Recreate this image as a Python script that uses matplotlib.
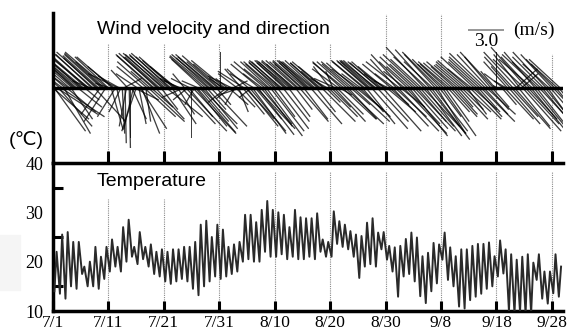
import matplotlib
matplotlib.use('Agg')
import matplotlib.pyplot as plt
import numpy as np
from matplotlib.patches import Rectangle

# ---------------- data ----------------
tick_days = [0, 10, 20, 30, 40, 50, 60, 70, 80, 90]
tick_labels = ['7/1', '7/11', '7/21', '7/31', '8/10', '8/20', '8/30', '9/8', '9/18', '9/28']

# daily temperature extremes (deg C), day 0 = 7/1
temp_max = [22, 25.5, 26, 24, 24, 19, 20, 23, 21, 23,
            24.5, 23, 27, 28.5, 23, 26, 23, 23.5, 22, 22.5,
            22, 22.5, 22.5, 23, 23, 24, 27.5, 28.3, 25, 27.5,
            26.5, 23, 23.5, 24, 29.5, 29.5, 28, 30.5, 32.3, 30.5,
            30, 29.5, 27, 30.5, 29, 28.8, 28.8, 29.8, 24.5, 24,
            30.2, 28.2, 27.5, 26.2, 25.5, 25.2, 27.9, 28.8, 25.9, 26,
            23.2, 22.9, 23.2, 24.6, 25.9, 24.9, 21.1, 21.8, 23.8, 23.5,
            25.9, 22.9, 21.1, 22.5, 22.5, 23.2, 23.6, 23.6, 23.9, 21.1,
            24.3, 22.5, 21.5, 20.4, 21, 21.5, 19.8, 21.5, 18, 18,
            21.5, 19.0]
temp_min = [14, 13.5, 12.5, 15, 14.5, 17.5, 15, 15, 14.5, 16.5,
            18, 19, 18, 20, 21, 19.5, 20.5, 19, 17.5, 17,
            16, 15.5, 16, 16.5, 16, 14.5, 13.2, 15, 16, 17,
            16.5, 17, 17.5, 18, 20, 20.5, 20, 20, 22, 21,
            21, 21.5, 20.5, 21, 20.5, 20.5, 21, 20.5, 22, 21,
            21, 23.6, 23, 22.5, 21, 16.7, 19, 19.5, 19, 22.5,
            20.4, 18, 12.9, 17, 17.5, 16, 13, 11.6, 14, 15.6,
            20.4, 16.3, 15, 10.9, 10.5, 12.2, 12.9, 13.5, 14.5, 15,
            17, 17.6, 10, 9.5, 9.8, 9.5, 9.6, 16.3, 12.5, 11.5,
            13.6, 12.9]

# wind components (m/s), 4 observations per day
wind_u = [3.0, 2.6, -2.8, 3.4,  2.8, -3.0, 3.6, -2.2,  2.2, -3.2, 2.4, -3.4,
          -3.0, 1.8, -3.3, -2.6,  -3.2, -2.8, 2.0, -3.5,  -3.0, -3.4, -2.4, 1.2,
          -3.2, -2.9, -3.5, -1.5,  -3.0, -3.3, 2.6, -2.7,  -3.4, -3.0, -1.6, -3.1,
          -3.2, -2.4, -1.8, -3.5,  -2.8, -1.2, 1.0, -3.0,  -2.2, -1.5, 0.6, -2.5,
          -1.8, -1.0, 0.2, 1.5,  0.1, -0.6, -1.4, 0.1,  0.0, 1.2, -0.8, 2.0,
          -1.2, -1.8, 0.6, 2.2,  1.5, -2.2, 2.6, 0.4,  -2.5, 3.0, -1.6, 1.8,
          -3.0, -3.2, 2.4, -2.8,  -3.3, -2.9, 1.4, -3.1,  -3.4, -3.0, 3.0, -3.2,
          -2.8, -3.3, 2.0, -2.6,  -3.0, -2.2, 1.4, -1.6,  -1.4, 2.8, -1.8, -1.0,
          3.4, -1.2, 2.0, -1.6,  0.0, 3.6, -0.8, 2.6,  3.2, -1.4, 2.4, 3.0,
          -2.6, 2.8, -3.0, 1.6,  -3.2, -2.8, 3.0, -3.4,  -3.0, -3.3, 1.2, -2.6,
          -3.1, 0.0, -2.4, -1.2,  -2.8, -1.5, -1.0, 1.6,  -1.2, -2.0, 1.2, -0.8,
          1.6, -1.6, 0.8, -1.8,  -1.4, 1.8, -2.2, 2.4,  2.6, -1.8, 3.0, -1.0,
          2.8, -2.0, 2.2, 3.2,  3.0, -2.4, 2.6, -1.6,  2.4, -2.6, 3.0, -2.0,
          -2.4, 2.8, -2.2, 1.8,  -2.6, -2.3, 2.6, -2.5,  -2.4, -2.7, 2.2, -2.3,
          -2.6, -2.4, 1.8, -2.8,  -2.5, -2.2, -2.7, 1.4,  -2.6, -2.4, 2.4, -2.2,
          -2.5, 2.0, -2.7, -2.3,  -2.6, -2.4, 2.6, -2.8,  -2.6, -2.5, 1.6, -2.3,
          -2.4, -1.6, 2.8, -2.6,  -2.2, 1.2, -1.4, 2.4,  -1.4, 1.6, -0.6, 2.6,
          -1.8, 2.2, -2.2, 1.0,  -2.4, 2.8, -2.6, 3.2,  -2.5, 2.4, -2.3, 1.6,
          -2.6, 3.0, -2.4, 2.2,  -2.2, 2.6, -1.6, 1.8,  -2.6, -2.8, 2.4, -2.5,
          -2.7, -2.5, 3.0, -2.8,  -2.6, -2.9, 2.6, -2.4,  -2.7, -2.5, 3.2, -2.2,
          -1.8, 2.4, -1.2, 1.6,  -2.4, 3.0, -1.6, 2.6,  -2.2, 3.4, -2.8, 2.0,
          -2.6, 3.6, -1.8, 2.8,  -2.4, 3.2, -2.0, 3.0,  -2.8, 3.4, -2.2, 2.4,
          -3.0, 2.8, -2.6, 3.6,  -3.2, 3.0, -2.8, 2.6,  -2.9, 3.2, -2.4, 2.8,
          -2.6, 2.4, -3.0, 1.8,  -2.4, 2.8, -2.2, 2.0,  -2.2, 1.8, -2.6, 2.2,
          -2.4, 2.0, -2.0, 1.4,  -2.6, 2.4, -2.2, 1.8,  -2.3, 2.2, -2.5, 1.6,
          -2.6, 2.6, -2.0, 2.0,  -2.8, 2.2, -2.4, 1.8,  -2.6, 2.8, -2.8, 2.0,
          -3.0, 2.4, -2.6, 1.6,  -2.2, 1.4, -2.8, -1.2,  0.0, -0.4, -0.3, 0.2,
          1.2, -1.6, 2.4, -1.0,  -2.0, 2.6, -1.6, 2.2,  -2.4, 3.0, 1.8, -2.8,
          2.6, -2.2, 1.4, 3.2,  -2.6, 2.8, -3.0, 2.4,  -2.4, 3.0, -2.8, 2.6,
          -2.6, 2.2, -3.0, 3.2,  -2.4, 2.8, -2.6, 2.0,  -2.8, 2.6, -2.2, 2.4,
          -2.6, 3.0, -2.4, 1.8,  -2.2, 2.2, -2.6, 1.6]
wind_v = [-2.6, -3.6, 2.2, -2.2,  -3.2, 2.6, -2.4, 1.6,  -3.8, 2.8, -2.0, 2.5,
          2.6, -2.6, 2.9, 2.4,  2.8, 2.5, -1.6, 2.9,  2.7, 2.8, 2.0, -1.0,
          2.9, 2.6, 2.8, 0.6,  2.8, 2.9, -2.8, 2.5,  3.0, 2.7, -2.2, 2.8,
          2.9, 2.2, -2.8, 3.0,  2.6, 0.4, -3.5, 2.6,  1.8, -2.4, -2.8, 1.2,
          1.0, -2.0, -3.8, 0.8,  -4.6, -3.2, 1.5, -5.0,  -4.2, -2.6, -3.4, -1.0,
          -3.6, 1.2, -3.0, -3.4,  -3.8, 1.8, -2.4, -2.8,  2.2, -2.8, 1.4, -1.6,
          2.7, 2.8, -2.6, 2.6,  2.9, 2.6, -1.8, 2.8,  2.9, 2.8, -2.4, 2.7,
          2.6, 2.9, -3.0, 2.3,  2.6, 1.8, -2.2, 0.8,  0.6, -3.0, -0.8, 1.2,
          -3.6, -1.0, -2.4, 0.8,  -4.2, -3.8, -1.4, -3.2,  -3.7, 0.6, -2.8, -3.0,
          2.4, -3.4, 2.6, -1.8,  2.7, 2.5, -3.2, 2.8,  2.6, 2.8, -1.4, 2.2,
          2.7, 3.0, 2.0, 0.8,  2.3, -1.2, 0.8, -1.4,  -0.9, 1.0, 0.6, -1.4,
          -1.6, 1.2, -2.0, -0.6,  1.6, -2.2, 1.4, -2.6,  -3.2, 1.6, -3.6, -0.8,
          -3.8, 1.2, -2.6, -3.4,  -3.9, 2.0, -3.0, 1.2,  -3.2, 2.2, -4.0, 1.6,
          2.2, -3.6, 2.0, -2.4,  2.2, 2.2, -3.4, 2.1,  2.2, 2.3, -2.8, 2.1,
          2.3, 2.2, -2.4, 2.3,  2.2, 2.0, 2.3, -1.8,  2.3, 2.2, -2.8, 2.0,
          2.2, -2.6, 2.3, 2.1,  2.3, 2.2, -3.0, 2.3,  2.2, 2.3, -2.0, 2.1,
          2.1, 1.4, -2.8, 2.2,  1.8, -1.2, 0.8, -2.4,  1.8, -1.6, 1.4, -2.8,
          0.8, -2.2, 1.6, -0.6,  2.2, -2.6, 2.1, -3.0,  2.2, -2.6, 2.0, -1.4,
          2.2, -2.8, 2.1, -1.8,  1.6, -2.4, 1.2, -2.0,  2.2, 2.3, -3.0, 2.2,
          2.3, 2.2, -3.4, 2.3,  2.3, 2.3, -2.8, 2.1,  2.2, 2.2, -3.6, 1.8,
          1.2, -2.0, 0.6, -1.4,  2.0, -3.2, 1.2, -2.4,  2.4, -3.6, 2.2, -1.6,
          2.8, -3.8, 1.4, -3.0,  2.2, -4.0, 1.8, -3.4,  2.6, -3.6, 2.0, -2.8,
          2.8, -3.2, 2.4, -3.8,  3.4, -4.0, 2.6, -3.2,  3.2, -4.3, 2.2, -3.6,
          2.8, -3.8, 3.0, -2.4,  2.4, -4.0, 2.0, -2.8,  2.0, -2.0, 2.2, -2.4,
          2.1, -2.2, 1.8, -1.6,  2.2, -2.6, 1.9, -1.8,  2.0, -2.0, 2.2, -2.2,
          2.3, -2.6, 1.6, -1.8,  2.6, -2.4, 2.2, -2.0,  2.4, -2.8, 2.6, -2.2,
          2.9, -2.2, 2.8, -1.8,  2.6, -1.6, 3.0, 1.4,  3.0, 0.2, -0.2, 0.1,
          -1.4, 1.2, -2.6, 0.6,  2.2, -3.0, 1.8, -2.4,  2.6, -3.4, 1.6, 3.0,
          -3.2, 2.8, 1.2, -3.6,  2.4, -3.0, 3.4, -2.6,  2.6, -3.7, 2.4, -3.2,
          3.0, -2.8, 2.8, -3.4,  2.2, -3.4, 2.6, -2.4,  3.0, -3.6, 2.0, -2.8,
          2.8, -3.2, 2.4, -2.2,  2.0, -2.6, 2.4, -1.8]
obs_per_day = 4
scale_speed = 3.0

# ---------------- style ----------------
W, H = 576, 336
SANS = ['Liberation Sans', 'DejaVu Sans']
SERIF = ['Liberation Serif', 'DejaVu Serif']
top_guide_ymax = [0.8, 0.8, 0.8, 0.8, 0.8, 0.993, 0.993, 0.73, 0.73]
bot_guide_ymax = [0.757, 0.757, 0.946, 0.946, 0.946, 0.946, 0.946, 0.946, 0.946]

fig = plt.figure(figsize=(W / 100, H / 100), dpi=100)
fig.patches.append(Rectangle((0, (H - 290) / H), 20 / W, 55 / H,
                             transform=fig.transFigure, color='#f5f5f5', zorder=0))

axw = fig.add_axes([53 / W, (H - 163) / H, 510 / W, 150 / H])
axt = fig.add_axes([53 / W, (H - 311) / H, 510 / W, 148 / H])

# ---- wind panel ----
u = np.array(wind_u)
v = np.array(wind_v)
t_w = np.arange(len(u)) / obs_per_day
axw.set_xlim(0, 92)
axw.set_ylim(-6.25, 6.25)
for d, ym in zip(tick_days[1:], top_guide_ymax):
    axw.axvline(d, ymin=0, ymax=ym, color='#8a8a8a', lw=0.8, ls=(0, (1, 1)), zorder=1)
axw.axhline(0, color='black', lw=2.5, zorder=2)
Q = axw.quiver(t_w, np.zeros_like(t_w), u, v, angles='uv', scale_units='y', scale=1,
               units='dots', width=1.3, headwidth=0, headlength=0, headaxislength=0,
               color='black', alpha=0.75, zorder=3)
axw.quiverkey(Q, 486 / W, (H - 30) / H, scale_speed, '3.0', labelpos='S',
              coordinates='figure', labelsep=0.03, color='#777777',
              fontproperties={'family': SERIF, 'size': 14})
fig.text(513 / W, (H - 30) / H, '(m/s)', family=SERIF, fontsize=14, ha='left', va='center')
for s in ['top', 'right', 'bottom']:
    axw.spines[s].set_visible(False)
axw.spines['left'].set_linewidth(2.5)
axw.set_yticks([])
axw.set_xticks(tick_days[1:])
axw.tick_params(axis='x', direction='in', length=9, width=2.2, labelbottom=False)
fig.text(97 / W, (H - 29) / H, 'Wind velocity and direction', family=SANS,
         fontsize=14, ha='left', va='center')

# ---- temperature panel ----
t_t, vals = [], []
for d, (lo, hi) in enumerate(zip(temp_min, temp_max)):
    t_t += [d + 0.25, d + 0.65]
    vals += [lo, hi]
axt.set_xlim(0, 92)
axt.set_ylim(10, 40)
for d, ym in zip(tick_days[1:], bot_guide_ymax):
    axt.axvline(d, ymin=0, ymax=ym, color='#8a8a8a', lw=0.8, ls=(0, (1, 1)), zorder=1)
axt.plot(t_t, vals, color='#2a2a2a', lw=1.4, solid_joinstyle='round', zorder=3)
axt.spines['right'].set_visible(False)
for s in ['top', 'bottom', 'left']:
    axt.spines[s].set_linewidth(2.5)
axt.set_xticks(tick_days)
axt.set_xticklabels(tick_labels, family=SERIF, fontsize=12.5)
axt.tick_params(axis='x', direction='in', length=7, width=2.2, pad=3)
axt.set_yticks([10, 20, 30, 40])
axt.set_yticklabels(['10', '20', '30', '40'], family=SERIF, fontsize=13)
axt.set_yticks([15, 25, 35], minor=True)
axt.tick_params(axis='y', which='major', length=0, pad=7)
axt.tick_params(axis='y', which='minor', direction='in', length=7, width=2.2)
fig.text(97 / W, (H - 182) / H, 'Temperature', family=SANS, fontsize=14,
         ha='left', va='center')
fig.text(9 / W, (H - 140) / H, '(\u2103)', family=SANS, fontsize=14,
         ha='left', va='center')

fig.savefig('out.png', dpi=100)
